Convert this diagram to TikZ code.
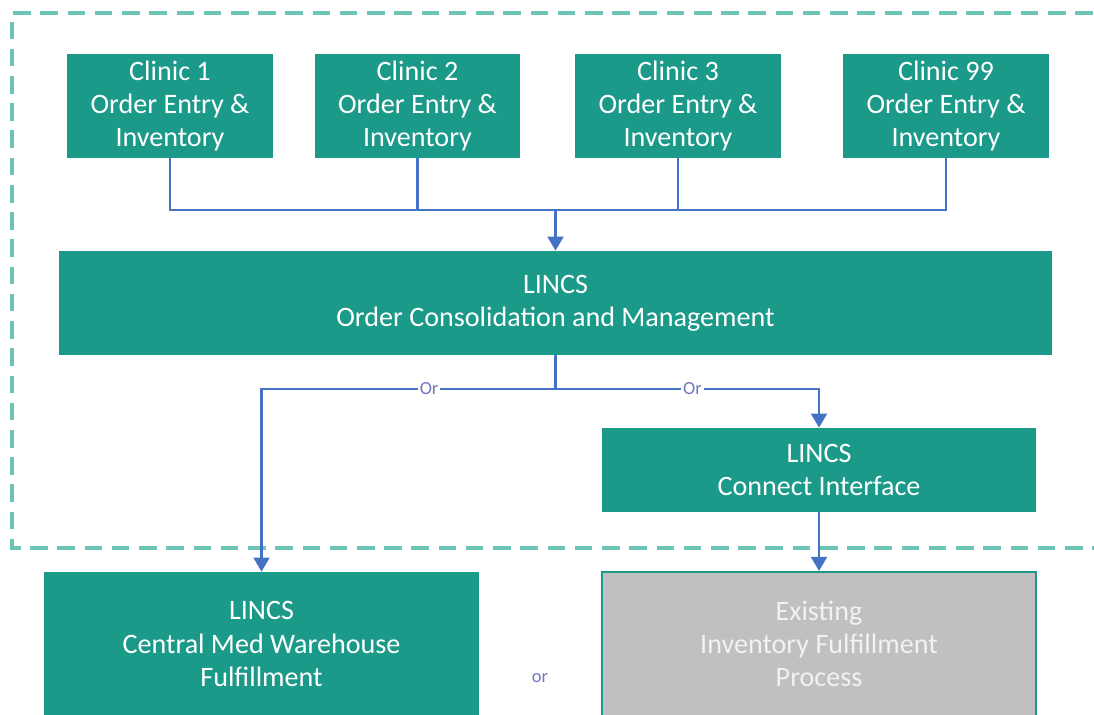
\documentclass[tikz,border=0pt]{standalone}
\usepackage{fontspec}
\setmainfont{Carlito}
\usetikzlibrary{arrows.meta}
\definecolor{lincsteal}{RGB}{27,154,138}
\definecolor{zoneteal}{RGB}{108,196,180}
\definecolor{linkblue}{RGB}{68,114,196}
\definecolor{orblue}{RGB}{110,120,190}
\definecolor{oldgray}{RGB}{192,192,192}
\tikzset{
  box/.style={rectangle,fill=lincsteal,text=white,align=center,
    font=\fontsize{16}{18.8}\selectfont,inner sep=0pt},
  clinic/.style={box,minimum width=4.12cm,minimum height=2.08cm},
  oldbox/.style={box,fill=oldgray,draw=lincsteal,line width=1.2pt,text=white!95!black},
  link/.style={linkblue,line width=1.4pt},
  arr/.style={link,-{Triangle[width=9pt,length=8pt]}},
  orlabel/.style={fill=white,text=orblue,font=\fontsize{10.5}{12}\selectfont,inner sep=1pt}
}
\begin{document}
\begin{tikzpicture}[x=0.02cm,y=-0.02cm]
  \useasboundingbox (0,0) rectangle (1094,715);
  \draw [zoneteal,line width=1.8pt,dash pattern=on 10pt off 5.5pt] (1120,13) -- (12,13) -- (12,548) -- (1120,548);
  \node [clinic] (c1) at (170,106) {Clinic 1\\Order Entry \&\\Inventory};
  \node [clinic] (c2) at (417.5,106) {Clinic 2\\Order Entry \&\\Inventory};
  \node [clinic] (c3) at (678,106) {Clinic 3\\Order Entry \&\\Inventory};
  \node [clinic] (c99) at (946,106) {Clinic 99\\Order Entry \&\\Inventory};
  \node [box,minimum width=19.86cm,minimum height=2.08cm] (main) at (555.5,303) {LINCS\\Order Consolidation and Management};
  \node [box,minimum width=8.68cm,minimum height=1.68cm] (connect) at (819,470) {LINCS\\Connect Interface};
  \node [box,minimum width=8.7cm,minimum height=2.88cm] (central) at (261.5,644) {LINCS\\Central Med Warehouse\\Fulfillment};
  \node [oldbox,minimum width=8.68cm,minimum height=2.88cm] (existing) at (819,644) {Existing\\Inventory Fulfillment\\Process};
  \node [text=orblue,font=\fontsize{10.5}{12}\selectfont] (ortext) at (540,678) {or};
  \coordinate (bus) at (555.5,210);
  \coordinate (split) at (555.5,389);
  \draw [link] (c1.south) |- (bus) -| (c99.south);
  \draw [link] (c2.south) -- (c2.south |- bus);
  \draw [link] (c3.south) -- (c3.south |- bus);
  \draw [arr] (bus) -- (main.north);
  \draw [link] (main.south) -- (split);
  \draw [arr] (split) -- node [orlabel,pos=0.43] {Or} (central.north |- split) -- (central.north);
  \draw [arr] (split) -- node [orlabel,pos=0.52] {Or} (connect.north |- split) -- (connect.north);
  \draw [arr] (connect.south) -- (existing.north);
\end{tikzpicture}
\end{document}
